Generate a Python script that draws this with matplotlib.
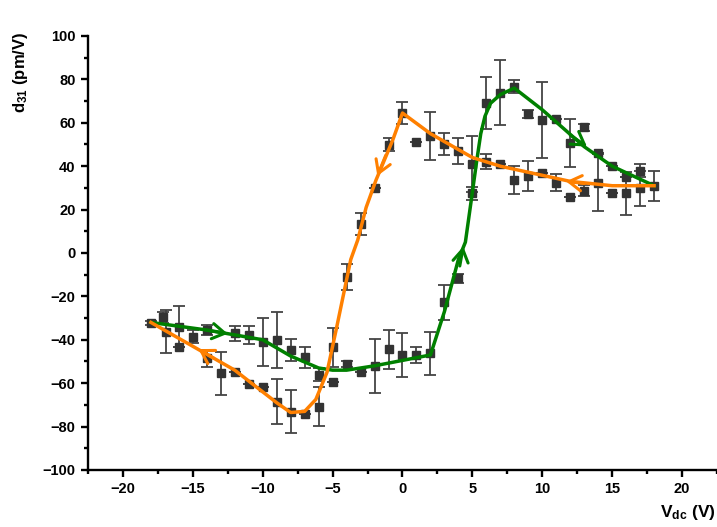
import numpy as np
import matplotlib
matplotlib.use("Agg")
import matplotlib.pyplot as plt

plt.rcParams['font.family'] = ['Liberation Sans', 'DejaVu Sans']
plt.rcParams['font.weight'] = 'bold'
plt.rcParams['mathtext.fontset'] = 'custom'
plt.rcParams['mathtext.rm'] = 'Liberation Sans:bold'
plt.rcParams['mathtext.bf'] = 'Liberation Sans:bold'
plt.rcParams['mathtext.default'] = 'bf'

# measured points (x in V, d31 in pm/V, error bar half-length)
pts_x = [-18, -17.1, -16.9, -16, -16, -15, -14, -14, -13, -12, -12, -11, -11,
         -10, -10, -9, -9, -8, -8, -7, -7, -6, -6, -5, -5, -4, -4, -3, -3,
         -2, -2, -1, -1, 0, 0, 1, 1, 2, 2, 3, 3, 4, 4, 5, 5, 6, 6, 7, 7,
         8, 8, 9, 9, 10, 10, 11, 11, 12, 12, 13, 13, 14, 14, 15, 15, 16, 16,
         17, 17, 18]
pts_y = [-32.4, -29.6, -36.3, -34.0, -43.2, -38.6, -35.5, -48.5, -55.4, -37.0,
         -54.7, -37.8, -60.4, -40.9, -61.9, -40.1, -68.5, -44.7, -73.1, -48.1,
         -74.2, -56.2, -70.8, -43.5, -59.3, -11.2, -51.2, 13.4, -54.7, 29.8,
         -52.1, 49.8, -44.4, 64.4, -47.0, 51.3, -47.0, 53.9, -46.2, 50.2,
         -22.7, 47.1, -11.7, 41.0, 27.5, 69.0, 42.1, 73.9, 41.0, 76.7, 33.6,
         64.1, 35.5, 61.3, 37.0, 61.6, 32.4, 50.8, 25.9, 57.9, 28.7, 46.2,
         32.4, 40.0, 27.8, 34.9, 27.5, 37.9, 29.8, 31.0]
pts_err = [1, 2.5, 10, 9.5, 0, 3, 2.5, 4, 10, 3.5, 0, 4, 0, 11, 0, 13, 10.5, 5,
           10, 5, 0, 3, 9, 9, 0, 6, 1.5, 5, 0, 0, 12.5, 3, 9, 5, 10, 0, 3.5,
           11, 10, 5, 8, 6, 2, 12.8, 3, 12, 3.5, 15, 0, 3, 6.3, 2, 7, 17.5, 0,
           0, 4, 11, 0, 1.5, 2.5, 0, 13, 0, 0, 0, 10, 3, 8, 7]

# guide curves
up_x = [-18, -14, -10, -8, -6, -5, -4, -2, 0, 2, 3, 4, 4.5, 5, 5.3, 5.6, 5.9,
        6.3, 7, 8, 10, 13, 15, 18]
up_y = [-32, -35.5, -40, -47.5, -53, -54, -54, -52, -49.5, -47, -27, -3, 5,
        28, 42, 55, 63, 69, 73, 76, 66, 49, 40, 31]
down_x = [18, 15, 12, 7, 5, 2, 0, -0.7, -1.9, -2.6, -3.2, -3.7, -4.7, -5.4,
          -6.2, -7, -8, -9, -12, -18]
down_y = [31, 31, 33, 40, 44, 55, 64.5, 52, 33.5, 21, 6, -3, -34, -55,
          -67.5, -73, -73.5, -69, -54, -32]

green = '#008000'
orange = '#ff8000'

fig = plt.figure(figsize=(7.17, 5.27), dpi=100)
ax = fig.add_axes([0.1227, 0.1082, 0.8773, 0.8235])

ax.errorbar(pts_x, pts_y, yerr=pts_err, fmt='s', color='#333333', ms=5.5,
            ecolor='#444444', elinewidth=1.3, capsize=4.5, capthick=1.3, zorder=2)
ax.plot(up_x, up_y, color=green, lw=2.5, zorder=3)
ax.plot(down_x, down_y, color=orange, lw=2.5, zorder=3)

# direction arrows
arrows = [((-14, -35.6), (-12.5, -37.2), green),
          ((4.1, -6), (4.35, 3), green),
          ((12, 54.4), (13.2, 49), green),
          ((13, 32), (11.7, 33), orange),
          ((-1.2, 45), (-1.8, 35.5), orange),
          ((-13.5, -48.5), (-14.6, -44.3), orange)]
for tail, tip, c in arrows:
    ax.annotate('', xy=tip, xytext=tail,
                arrowprops=dict(arrowstyle='->,head_length=0.9,head_width=0.55',
                                color=c, lw=2.2, shrinkA=0, shrinkB=0), zorder=4)

ax.set_xlim(-22.5, 22.5)
ax.set_ylim(-100, 100)
ax.set_xticks(np.arange(-20, 21, 5))
ax.set_xticks(np.arange(-22.5, 22.6, 2.5), minor=True)
ax.set_yticks(np.arange(-100, 101, 20))
ax.set_yticks(np.arange(-90, 91, 20), minor=True)
ax.spines['top'].set_visible(False)
ax.spines['right'].set_visible(False)
for s in ['left', 'bottom']:
    ax.spines[s].set_linewidth(1.7)
ax.tick_params(which='major', direction='out', length=5, width=1.7,
               labelsize=10.5, pad=4)
ax.tick_params(which='minor', direction='out', length=3, width=1.7)
for lab in ax.get_xticklabels() + ax.get_yticklabels():
    lab.set_fontweight('bold')

fig.text(0.028, 1 - 72 / 527, r'd$_{31}$ (pm/V)', rotation=90, ha='center',
         va='center', fontsize=12, fontweight='bold')
fig.text(0.998, 1 - 512 / 527, r'V$_{dc}$ (V)', ha='right', va='center',
         fontsize=12.5, fontweight='bold')

fig.savefig('out.png', dpi=100)
